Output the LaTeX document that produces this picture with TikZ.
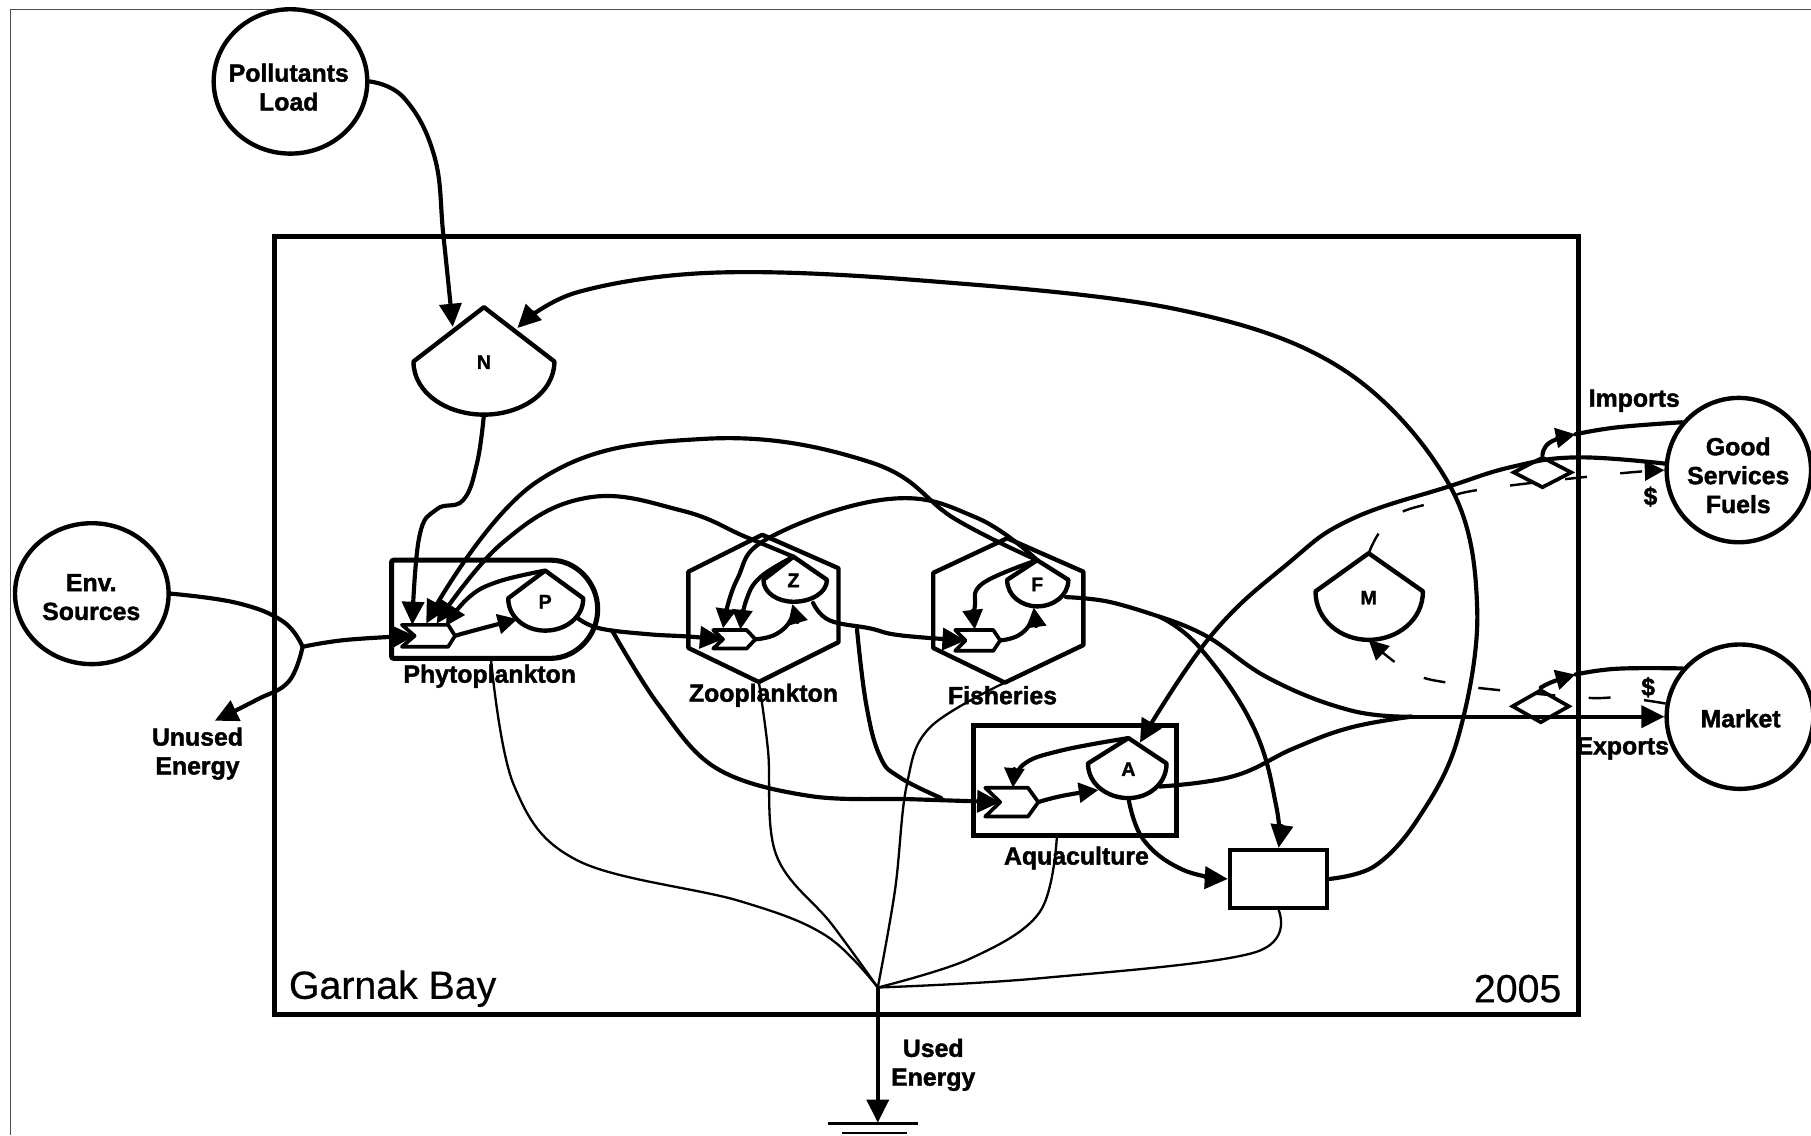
\documentclass[tikz,border=0pt]{standalone}
\usepackage{fontspec}
\setmainfont{Liberation Sans}[FakeBold=0.5,BoldFeatures={FakeBold=1.6}]
\usetikzlibrary{arrows.meta,shapes.geometric}
\tikzset{
  conn/.style={line width=3.6pt,line join=round,line cap=round},
  arr/.style={conn,-{Triangle[length=20pt,width=19pt]}},
  arrs/.style={conn,-{Triangle[length=17pt,width=17pt]}},
  sink/.style={line width=2pt,line cap=round},
  money/.style={line width=2.1pt,dash pattern=on 19pt off 29pt},
  mtip/.style={money,-{Triangle[length=17pt,width=17pt]}},
  frameline/.style={line width=4.4pt,line join=miter},
  shapeline/.style={line width=3.8pt,line join=round},
  lab/.style={font=\fontsize{21.5}{25}\selectfont\bfseries,align=center,inner sep=0pt},
  tanklab/.style={font=\fontsize{17}{20}\selectfont\bfseries,inner sep=0pt},
  bigtxt/.style={font=\fontsize{34}{38}\selectfont,inner sep=0pt},
  src/.style={ellipse,draw,line width=3.8pt,inner sep=0pt},
}
\newcommand{\tankshape}[8]{% name cx top xl xr shoulder bottom label
  \coordinate (#1-top) at (#2,#3);
  \coordinate (#1-l) at (#4,#6);
  \coordinate (#1-r) at (#5,#6);
  \coordinate (#1-bot) at (#2,#7);
  \pgfmathsetmacro{\tka}{#6+0.6*(#7-#6)}
  \pgfmathsetmacro{\tkb}{#2+0.52*(#5-#2)}
  \pgfmathsetmacro{\tkc}{#2-0.52*(#2-#4)}
  \draw[shapeline] (#1-l) -- (#1-top) -- (#1-r)
     .. controls (#5,\tka) and (\tkb,#7) .. (#1-bot)
     .. controls (\tkc,#7) and (#4,\tka) .. (#1-l) -- cycle;
  \pgfmathsetmacro{\tkd}{0.5*(#3+#7)+1}
  \node[tanklab] (#1) at (#2,\tkd) {#8};
}
\newcommand{\producer}[7]{% name xleft xright xtip xnotch ytop ybottom
  \pgfmathsetmacro{\pra}{0.5*(#6+#7)}
  \coordinate (#1-tip) at (#4,\pra);
  \coordinate (#1-notch) at (#5,\pra);
  \draw[line width=3.2pt,line join=round,fill=white] (#2,#6) -- (#3,#6) -- (#1-tip) -- (#3,#7) -- (#2,#7) -- (#1-notch) -- cycle;
}
\begin{document}
\begin{tikzpicture}[x=1pt,y=-1pt]
\useasboundingbox (0,0) rectangle (1568,983);
\fill[white] (0,0) rectangle (1568,983);
\draw[line width=1pt,black!70] (9,983) -- (9,8) -- (1568,8);
% system frame
\draw[frameline] (238,205) rectangle (1367,878);
% source circles
\node[src,minimum width=133pt,minimum height=125pt] (poll) at (251.5,70.5) {};
\node[src,minimum width=133pt,minimum height=122pt] (env) at (79.5,514) {};
\node[src,minimum width=125pt,minimum height=125pt] (good) at (1505.5,407) {};
\node[src,minimum width=127pt,minimum height=125pt] (market) at (1506.5,620.5) {};
% tanks
\tankshape{N}{419}{266}{358}{480}{313}{359}{N}
\tankshape{M}{1185}{479}{1139}{1232}{512}{554}{M}
\tankshape{P}{472}{494}{440}{505}{518}{546}{P}
\tankshape{Z}{687}{482}{661}{716}{502}{521}{Z}
\tankshape{F}{898}{485}{872}{925}{502}{525}{F}
\tankshape{A}{977}{639}{942}{1010}{661}{691}{A}
% containers
\coordinate (phbot) at (425,570);
\draw[frameline,rounded corners=2pt] (339,485) -- (475,485) arc[start angle=-90,end angle=90,radius=42.5] -- (339,570) -- cycle;
\coordinate (zhb) at (657,590.5);
\draw[shapeline] (660,463) -- (596,495) -- (596,561) -- (zhb) -- (726,556) -- (726,492) -- cycle;
\coordinate (fhb) at (870,591);
\draw[shapeline] (872,466) -- (808,496) -- (808,561) -- (fhb) -- (938,558.5) -- (938,495) -- cycle;
\node[draw,frameline,minimum width=176pt,minimum height=95pt,inner sep=0pt] (aq) at (931,675.5) {};
\node[draw,line width=3.8pt,minimum width=84pt,minimum height=50pt,inner sep=0pt] (box) at (1107,761) {};
% diamonds
\node[diamond,draw,line width=3.2pt,minimum width=51pt,minimum height=27pt,inner sep=0pt] (dup) at (1335.5,409) {};
\node[diamond,draw,line width=3.2pt,minimum width=50pt,minimum height=29pt,inner sep=0pt] (dlo) at (1334,611.5) {};
% producers
\producer{pp}{348}{388}{394}{359}{541}{560}
\producer{zp}{617.5}{646.5}{654}{626}{545.5}{561.5}
\producer{fp}{827}{860}{866}{836}{545.5}{563.5}
\producer{ap}{853}{890}{899}{866}{682}{707}
% junction points
\coordinate (envj) at (262,560);
\coordinate (po) at (500,535);
\coordinate (pj) at (530,546);
\coordinate (zo) at (704,522);
\coordinate (zj) at (742,545);
\coordinate (fo) at (923,517);
\coordinate (fj) at (1004,534);
\coordinate (ao) at (1004,681);
\coordinate (atip) at (987,643);
\coordinate (mj) at (1222,620.5);
\coordinate (sinkj) at (760,855);
\coordinate (gnd) at (760,972);
\coordinate (tipU) at (1364,376);
\coordinate (tipL) at (1364,584);
% environment
\draw[conn] plot[smooth,tension=0.7] coordinates {(env.east) (205,522) (245,538) (envj)};
\draw[arr] plot[smooth,tension=0.7] coordinates {(envj) (300,554) (pp-notch)};
\draw[arr] plot[smooth,tension=0.7] coordinates {(envj) (250,590) (222,606) (186,624)};
\draw[arr] plot[smooth,tension=0.7] coordinates {(poll.east) (350,85) (376,135) (384,205) (392,283)};
% nitrogen
\draw[arr] plot[smooth,tension=0.7] coordinates {(N-bot) (413,401) (401,433) (378,441) (363,465) (357,541)};
\draw[arr] plot[smooth,tension=0.6] coordinates {(box.east) (1190,750) (1227,710) (1262,640) (1279,528) (1255,420) (1163,320) (1020,268) (800,243) (620,236) (500,253) (448,284)};
% arches to phytoplankton
\draw[arr] plot[smooth,tension=0.7] coordinates {(F-top) (828,450) (753,400) (609,380) (465,417) (369,540)};
\draw[arr] plot[smooth,tension=0.7] coordinates {(Z-top) (646,465) (590,442) (508,431) (435,470) (378,540)};
\draw[arrs] plot[smooth,tension=0.7] coordinates {(P-top) (430,504) (405,518) (386,542)};
\draw[arrs] plot[smooth,tension=0.8] coordinates {(pp-tip) (410,546) (448,536)};
% zooplankton
\draw[arr] plot[smooth,tension=0.7] coordinates {(po) (519,544) (560,549) (594,551) (zp-notch)};
\draw[arrs] plot[smooth,tension=0.7] coordinates {(F-top) (845,448) (770,432) (667,465) (638,502) (626,544)};
\draw[arrs] plot[smooth,tension=0.7] coordinates {(Z-top) (658,500) (646,520) (641,545)};
\draw[arrs] plot[smooth,tension=0.8] coordinates {(zp-tip) (672,549) (685,536) (686,523)};
% fisheries
\draw[arr] plot[smooth,tension=0.7] coordinates {(zo) (718,537) (753,544) (779,550) (fp-notch)};
\draw[arrs] plot[smooth,tension=0.7] coordinates {(F-top) (851,505) (844,525) (844,545)};
\draw[arrs] plot[smooth,tension=0.8] coordinates {(fp-tip) (882,550) (893,538) (895,526)};
% to aquaculture
\draw[arr] plot[smooth,tension=0.6] coordinates {(pj) (570,610) (620,665) (700,689) (790,692) (ap-notch)};
\draw[conn] plot[smooth,tension=0.7] coordinates {(zj) (750,610) (762,655) (779,673) (815,691)};
\draw[arrs] plot[smooth,tension=0.7] coordinates {(A-top) (918,650) (886,662) (877,682)};
\draw[arrs] plot[smooth,tension=0.8] coordinates {(ap-tip) (920,689) (951,684)};
% fish to box and market
\draw[conn] plot[smooth,tension=0.7] coordinates {(fo) (960,521) (fj)};
\draw[arr] plot[smooth,tension=0.7] coordinates {(fj) (1039,561) (1085,629) (1105,698) (box.north)};
\draw[conn] plot[smooth,tension=0.7] coordinates {(fj) (1045,551) (1100,588) (1169,615) (mj)};
\draw[conn] plot[smooth,tension=0.7] coordinates {(ao) (1068,672) (1120,648) (1169,630) (mj)};
\draw[arr] (mj) -- (market.west);
\draw[arr] plot[smooth,tension=0.7] coordinates {(A-bot) (990,727) (1024,753) (box.west)};
% imports and exports
\draw[arr] plot[smooth,tension=0.7] coordinates {(good.175) (1365,396) (1310,404) (1255,421) (1169,450) (1115,488) (1048,551) (atip)};
\draw[conn] plot[smooth,tension=0.7] coordinates {(good.140) (1400,370) (tipU)};
\draw[arrs] plot[smooth,tension=0.8] coordinates {(dup.north) (1342,383) (tipU)};
\draw[conn] plot[smooth,tension=0.7] coordinates {(market.140) (1400,579) (tipL)};
\draw[arrs] plot[smooth,tension=0.8] coordinates {(dlo.north) (1345,590) (tipL)};
% money
\draw[mtip] plot[smooth,tension=0.7] coordinates {(M-top) (1195,460) (1212,444) (1250,433) (1281,424) (1391,411) (good.west)};
\draw[mtip] plot[smooth,tension=0.7] coordinates {(market.170) (1405,604) (1371,604) (1293,597) (1258,592) (1221,582) (M-bot)};
% energy sinks
\draw[sink] plot[smooth,tension=0.6] coordinates {(phbot) (445,680) (500,745) (640,780) (715,810) (sinkj)};
\draw[sink] plot[smooth,tension=0.6] coordinates {(zhb) (665,650) (672,740) (720,800) (sinkj)};
\draw[sink] plot[smooth,tension=0.6] coordinates {(fhb) (805,630) (785,680) (775,770) (sinkj)};
\draw[sink] plot[smooth,tension=0.6] coordinates {(aq.south -| 915,0) (900,790) (840,830) (sinkj)};
\draw[sink] plot[smooth,tension=0.6] coordinates {(box.south) (1085,825) (900,847) (sinkj)};
\draw[arr] (sinkj) -- (gnd);
\draw[line width=2.4pt] (717,973) -- (795,973);
\draw[line width=2.4pt] (729,981) -- (785,981);
% labels
\node[lab] (t13) at (250,75.5) {Pollutants\\Load};
\node[lab] (t14) at (79,517) {Env.\\Sources};
\node[lab] (t15) at (1505,411.5) {Good\\Services\\Fuels};
\node[lab] (t16) at (1507,622) {Market};
\node[lab] (t1) at (424,585.5) {Phytoplankton};
\node[lab] (t2) at (661,602) {Zooplankton};
\node[lab] (t3) at (868,602) {Fisheries};
\node[lab] (t4) at (932,743) {Aquaculture};
\node[lab] (t5) at (171,652.5) {Unused\\Energy};
\node[lab] (t6) at (808,922) {Used\\Energy};
\node[lab] (t7) at (1415,347) {Imports};
\node[lab] (t8) at (1405,648) {Exports};
\node[lab] (t9) at (1429,430) {\$};
\node[lab] (t10) at (1427,595) {\$};
\node[bigtxt,anchor=west] (t11) at (250,856) {Garnak Bay};
\node[bigtxt,anchor=east] (t12) at (1352,856) {2005};
\end{tikzpicture}
\end{document}
